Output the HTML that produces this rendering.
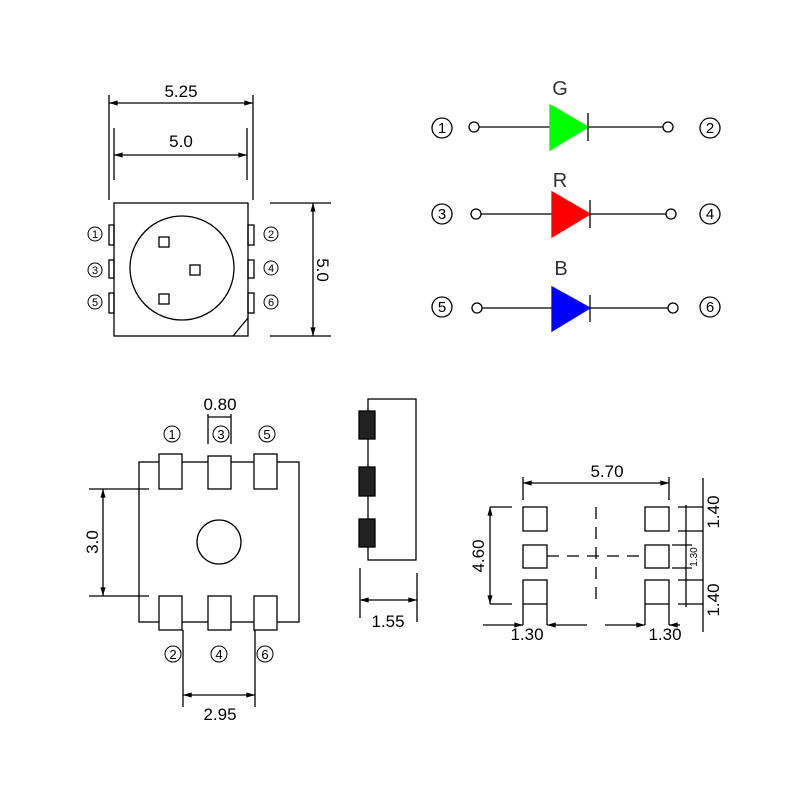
<!DOCTYPE html>
<html><head><meta charset="utf-8"><style>html,body{margin:0;padding:0;background:#fff}svg{display:block}</style></head>
<body>
<svg width="800" height="800" viewBox="0 0 800 800" xmlns="http://www.w3.org/2000/svg" font-family="Liberation Sans, sans-serif" fill="none" stroke="#000" stroke-width="1.3">
<defs>
<marker id="a" viewBox="0 0 10 6" refX="10" refY="3" markerWidth="8" markerHeight="4" orient="auto-start-reverse"><path d="M0,0L10,3L0,6z" fill="#000" stroke="none"/></marker>
</defs>
<!-- top-left package -->
<line x1="109" y1="95" x2="109" y2="200"/><line x1="253" y1="95" x2="253" y2="200"/>
<line x1="109" y1="103" x2="253" y2="103" marker-start="url(#a)" marker-end="url(#a)"/>
<line x1="114" y1="128" x2="114" y2="180"/><line x1="247" y1="128" x2="247" y2="180"/>
<line x1="114" y1="155" x2="247" y2="155" marker-start="url(#a)" marker-end="url(#a)"/>
<rect x="114" y="203" width="134" height="133"/>
<circle cx="182" cy="268" r="52"/>
<rect x="159" y="237" width="10" height="10"/><rect x="190" y="265" width="10" height="10"/><rect x="159" y="294" width="10" height="10"/>
<line x1="233" y1="336" x2="248" y2="318"/>
<rect x="109" y="225" width="5" height="20"/><rect x="109" y="260" width="5" height="18"/><rect x="109" y="293" width="5" height="20"/>
<rect x="248" y="225" width="6" height="20"/><rect x="248" y="260" width="6" height="18"/><rect x="248" y="293" width="6" height="20"/>
<line x1="270" y1="203" x2="331" y2="203"/><line x1="270" y1="336" x2="331" y2="336"/>
<line x1="313" y1="203" x2="313" y2="336" marker-start="url(#a)" marker-end="url(#a)"/>
<g stroke="none" fill="#000" font-size="17" text-anchor="middle">
<text x="181" y="97">5.25</text><text x="181" y="147">5.0</text>
<text transform="translate(317,270) rotate(90)">5.0</text>
</g>
<g font-size="11" text-anchor="middle" stroke-width="1">
<circle cx="95" cy="234" r="7"/><circle cx="95" cy="270" r="7"/><circle cx="95" cy="302" r="7"/>
<circle cx="271" cy="234" r="7"/><circle cx="271" cy="268" r="7"/><circle cx="271" cy="302" r="7"/>
<g stroke="none" fill="#000"><text x="95" y="238">1</text><text x="95" y="274">3</text><text x="95" y="306">5</text>
<text x="271" y="238">2</text><text x="271" y="272">4</text><text x="271" y="306">6</text></g>
</g>
<!-- schematic -->
<g stroke-width="1.3">
<circle cx="442" cy="128" r="10"/><circle cx="442" cy="214" r="10"/><circle cx="442" cy="307" r="10"/>
<circle cx="710" cy="128" r="10"/><circle cx="710" cy="214" r="10"/><circle cx="710" cy="307" r="10"/>
<circle cx="474" cy="127" r="5"/><circle cx="668" cy="127" r="5"/>
<circle cx="476" cy="214" r="5"/><circle cx="671" cy="214" r="5"/>
<circle cx="477" cy="308" r="5"/><circle cx="673" cy="308" r="5"/>
<line x1="479" y1="127" x2="663" y2="127"/><line x1="481" y1="214" x2="666" y2="214"/><line x1="482" y1="308" x2="668" y2="308"/>
<path d="M550,105L588,127L550,150z" fill="#00ff00" stroke="#00ff00"/>
<path d="M552,192L590,214L552,237z" fill="#ff0000" stroke="#ff0000"/>
<path d="M552,287L590,308L552,331z" fill="#0000ff" stroke="#0000ff"/>
<line x1="588" y1="113" x2="588" y2="141"/><line x1="590" y1="200" x2="590" y2="228"/><line x1="590" y1="295" x2="590" y2="322"/>
</g>
<g stroke="none" fill="#000" text-anchor="middle">
<g font-size="15"><text x="442" y="133">1</text><text x="442" y="219">3</text><text x="442" y="312">5</text>
<text x="710" y="133">2</text><text x="710" y="219">4</text><text x="710" y="312">6</text></g>
<g font-size="20" fill="#333"><text x="560" y="95">G</text><text x="560" y="187">R</text><text x="561" y="275">B</text></g>
</g>
<!-- bottom-left -->
<rect x="139" y="462" width="160" height="160"/>
<g fill="#fff">
<rect x="159" y="454" width="23" height="35"/><rect x="208" y="456" width="23" height="33"/><rect x="254" y="454" width="23" height="35"/>
<rect x="159" y="596" width="23" height="34"/><rect x="208" y="596" width="23" height="34"/><rect x="254" y="596" width="23" height="34"/>
</g>
<circle cx="219" cy="542" r="22"/>
<line x1="89" y1="489" x2="149" y2="489"/><line x1="89" y1="596" x2="149" y2="596"/>
<line x1="103" y1="489" x2="103" y2="596" marker-start="url(#a)" marker-end="url(#a)"/>
<line x1="208" y1="414" x2="208" y2="444"/><line x1="231" y1="414" x2="231" y2="444"/>
<line x1="208" y1="417" x2="231" y2="417"/>
<line x1="183" y1="630" x2="183" y2="707"/><line x1="255" y1="630" x2="255" y2="707"/>
<line x1="183" y1="695" x2="255" y2="695" marker-start="url(#a)" marker-end="url(#a)"/>
<g stroke-width="1"><circle cx="172" cy="434" r="8"/><circle cx="221" cy="434" r="8"/><circle cx="267" cy="434" r="8"/>
<circle cx="173" cy="654" r="8"/><circle cx="219" cy="654" r="8"/><circle cx="265" cy="654" r="8"/></g>
<g stroke="none" fill="#000" text-anchor="middle">
<g font-size="13"><text x="172" y="439">1</text><text x="221" y="439">3</text><text x="267" y="439">5</text>
<text x="173" y="659">2</text><text x="219" y="659">4</text><text x="265" y="659">6</text></g>
<g font-size="17"><text x="220" y="410">0.80</text><text x="220" y="720">2.95</text>
<text transform="translate(98,542) rotate(-90)">3.0</text><text x="388" y="627">1.55</text></g>
</g>
<!-- side view -->
<rect x="368" y="399" width="48" height="161"/>
<g fill="#222"><rect x="359" y="411" width="16" height="28"/><rect x="359" y="467" width="16" height="29"/><rect x="359" y="519" width="16" height="28"/></g>
<line x1="360" y1="568" x2="360" y2="618"/><line x1="417" y1="573" x2="417" y2="622"/>
<line x1="360" y1="600" x2="417" y2="600" marker-start="url(#a)" marker-end="url(#a)"/>
<!-- bottom-right footprint -->
<g>
<rect x="523" y="507" width="24" height="24"/><rect x="523" y="545" width="24" height="23"/><rect x="523" y="580" width="24" height="24"/>
<rect x="645" y="507" width="24" height="24"/><rect x="645" y="545" width="24" height="23"/><rect x="645" y="580" width="24" height="24"/>
<line x1="523" y1="477" x2="523" y2="500"/><line x1="669" y1="477" x2="669" y2="500"/>
<line x1="523" y1="483" x2="669" y2="483" marker-start="url(#a)" marker-end="url(#a)"/>
<line x1="490" y1="507" x2="512" y2="507"/><line x1="490" y1="604" x2="512" y2="604"/>
<line x1="490" y1="507" x2="490" y2="604" marker-start="url(#a)" marker-end="url(#a)"/>
<line x1="596" y1="507" x2="596" y2="605" stroke-dasharray="12,8"/>
<line x1="547" y1="556" x2="645" y2="556" stroke-dasharray="12,8"/>
<line x1="523" y1="604" x2="523" y2="625"/><line x1="547" y1="604" x2="547" y2="625"/>
<line x1="645" y1="604" x2="645" y2="625"/><line x1="669" y1="604" x2="669" y2="625"/>
<line x1="483" y1="625" x2="523" y2="625" marker-end="url(#a)"/><line x1="547" y1="625" x2="587" y2="625" marker-start="url(#a)"/>
<line x1="605" y1="625" x2="645" y2="625" marker-end="url(#a)"/><line x1="669" y1="625" x2="680" y2="625" marker-start="url(#a)"/>
<line x1="678" y1="507" x2="703" y2="507"/><line x1="678" y1="531" x2="703" y2="531"/>
<line x1="672" y1="545" x2="692" y2="545"/><line x1="672" y1="568" x2="692" y2="568"/>
<line x1="678" y1="580" x2="703" y2="580"/><line x1="678" y1="604" x2="703" y2="604"/>
<line x1="686" y1="505" x2="686" y2="607"/>
<line x1="703" y1="478" x2="703" y2="632"/>
</g>
<g stroke="none" fill="#000" text-anchor="middle" font-size="17">
<text x="607" y="477">5.70</text>
<text transform="translate(484,556) rotate(-90)">4.60</text>
<text x="527" y="640">1.30</text><text x="665" y="640">1.30</text>
<text transform="translate(719,512) rotate(-90)">1.40</text>
<text transform="translate(719,600) rotate(-90)">1.40</text>
<text transform="translate(697,557) rotate(-90)" font-size="10">1.30</text>
</g>
</svg>
</body></html>
